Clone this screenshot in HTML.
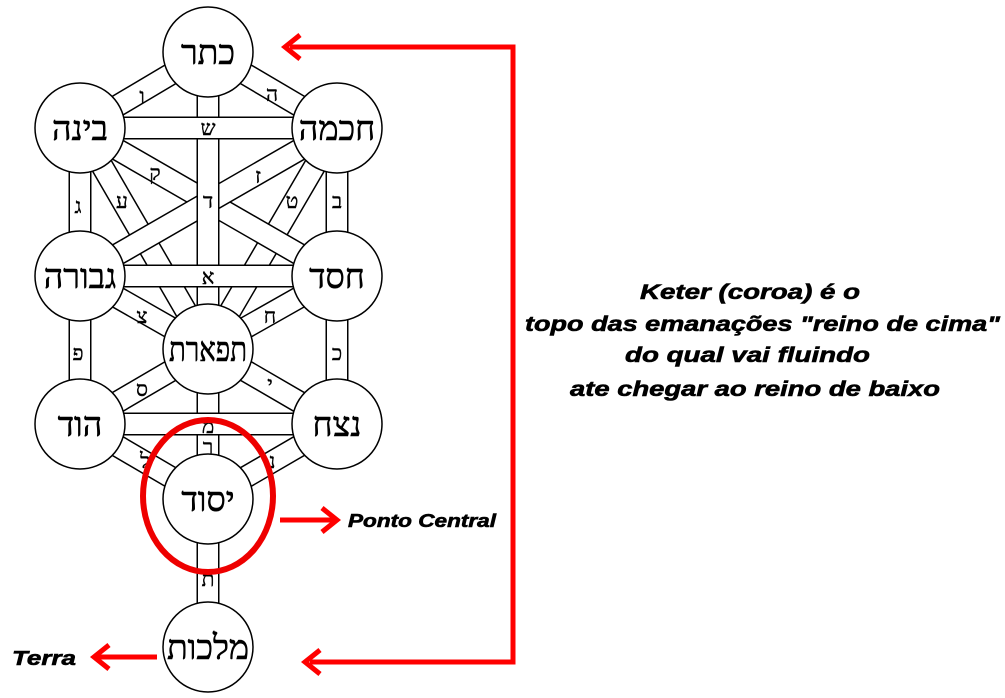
<!DOCTYPE html>
<html><head><meta charset="utf-8"><style>
html,body{margin:0;padding:0;background:#fff;width:1005px;height:698px;overflow:hidden}
svg{display:block}
.h{font-family:"Liberation Serif","DejaVu Serif",serif;text-anchor:middle;fill:#000}
.t{font-family:"Liberation Sans","DejaVu Sans",sans-serif;font-weight:bold;font-style:italic;fill:#000;stroke:#000;stroke-width:0.6}
</style></head><body>
<svg width="1005" height="698" viewBox="0 0 1005 698" xmlns="http://www.w3.org/2000/svg">
<g stroke-linecap="butt">
<line x1="208" y1="52" x2="80" y2="128" stroke="#000" stroke-width="23"/><line x1="208" y1="52" x2="80" y2="128" stroke="#fff" stroke-width="20"/>
<line x1="208" y1="52" x2="337" y2="128" stroke="#000" stroke-width="23"/><line x1="208" y1="52" x2="337" y2="128" stroke="#fff" stroke-width="20"/>
<line x1="80" y1="128" x2="80" y2="276" stroke="#000" stroke-width="23"/><line x1="80" y1="128" x2="80" y2="276" stroke="#fff" stroke-width="20"/>
<line x1="337" y1="128" x2="337" y2="276" stroke="#000" stroke-width="23"/><line x1="337" y1="128" x2="337" y2="276" stroke="#fff" stroke-width="20"/>
<line x1="80" y1="276" x2="80" y2="424" stroke="#000" stroke-width="23"/><line x1="80" y1="276" x2="80" y2="424" stroke="#fff" stroke-width="20"/>
<line x1="337" y1="276" x2="337" y2="424" stroke="#000" stroke-width="23"/><line x1="337" y1="276" x2="337" y2="424" stroke="#fff" stroke-width="20"/>
<line x1="80" y1="128" x2="208" y2="349" stroke="#000" stroke-width="23"/><line x1="80" y1="128" x2="208" y2="349" stroke="#fff" stroke-width="20"/>
<line x1="337" y1="128" x2="208" y2="349" stroke="#000" stroke-width="23"/><line x1="337" y1="128" x2="208" y2="349" stroke="#fff" stroke-width="20"/>
<line x1="80" y1="128" x2="337" y2="276" stroke="#000" stroke-width="23"/><line x1="80" y1="128" x2="337" y2="276" stroke="#fff" stroke-width="20"/>
<line x1="337" y1="128" x2="80" y2="276" stroke="#000" stroke-width="23"/><line x1="337" y1="128" x2="80" y2="276" stroke="#fff" stroke-width="20"/>
<line x1="208" y1="52" x2="208" y2="349" stroke="#000" stroke-width="23"/><line x1="208" y1="52" x2="208" y2="349" stroke="#fff" stroke-width="20"/>
<line x1="80" y1="128" x2="337" y2="128" stroke="#000" stroke-width="23"/><line x1="80" y1="128" x2="337" y2="128" stroke="#fff" stroke-width="20"/>
<line x1="80" y1="276" x2="337" y2="276" stroke="#000" stroke-width="23"/><line x1="80" y1="276" x2="337" y2="276" stroke="#fff" stroke-width="20"/>
<line x1="80" y1="276" x2="208" y2="349" stroke="#000" stroke-width="23"/><line x1="80" y1="276" x2="208" y2="349" stroke="#fff" stroke-width="20"/>
<line x1="337" y1="276" x2="208" y2="349" stroke="#000" stroke-width="23"/><line x1="337" y1="276" x2="208" y2="349" stroke="#fff" stroke-width="20"/>
<line x1="80" y1="424" x2="208" y2="349" stroke="#000" stroke-width="23"/><line x1="80" y1="424" x2="208" y2="349" stroke="#fff" stroke-width="20"/>
<line x1="337" y1="424" x2="208" y2="349" stroke="#000" stroke-width="23"/><line x1="337" y1="424" x2="208" y2="349" stroke="#fff" stroke-width="20"/>
<line x1="208" y1="349" x2="208" y2="499" stroke="#000" stroke-width="23"/><line x1="208" y1="349" x2="208" y2="499" stroke="#fff" stroke-width="20"/>
<line x1="80" y1="424" x2="337" y2="424" stroke="#000" stroke-width="23"/><line x1="80" y1="424" x2="337" y2="424" stroke="#fff" stroke-width="20"/>
<line x1="80" y1="424" x2="208" y2="499" stroke="#000" stroke-width="23"/><line x1="80" y1="424" x2="208" y2="499" stroke="#fff" stroke-width="20"/>
<line x1="337" y1="424" x2="208" y2="499" stroke="#000" stroke-width="23"/><line x1="337" y1="424" x2="208" y2="499" stroke="#fff" stroke-width="20"/>
<line x1="208" y1="499" x2="208" y2="647" stroke="#000" stroke-width="23"/><line x1="208" y1="499" x2="208" y2="647" stroke="#fff" stroke-width="20"/>
</g>
<g class="h" font-size="21" stroke="#000" stroke-width="0.4">
<text x="142" y="103">ו</text><text x="272" y="101">ה</text><text x="208" y="135">ש</text>
<text x="155" y="180">ק</text><text x="258" y="183">ז</text><text x="78" y="213">ג</text>
<text x="122" y="208">ע</text><text x="208" y="208">ד</text><text x="292" y="208">ט</text>
<text x="337" y="208">ב</text><text x="208" y="284">א</text><text x="142" y="323">צ</text>
<text x="270" y="323">ח</text><text x="78" y="360">פ</text><text x="337" y="360">כ</text>
<text x="142" y="396">ס</text><text x="270" y="391">י</text><text x="208" y="433">מ</text>
<text x="208" y="454">ר</text><text x="145" y="468">ל</text><text x="272" y="468">נ</text>
<text x="208" y="586">ת</text>
</g>
<g fill="#fff" stroke="#000" stroke-width="1.5">
<circle cx="208" cy="52" r="45"/><circle cx="80" cy="128" r="45"/><circle cx="337" cy="128" r="45"/>
<circle cx="80" cy="276" r="45"/><circle cx="337" cy="276" r="45"/><circle cx="208" cy="349" r="45"/>
<circle cx="80" cy="424" r="45"/><circle cx="337" cy="424" r="45"/><circle cx="208" cy="499" r="45"/>
<circle cx="208" cy="647" r="45"/>
</g>
<g class="h" font-size="34" stroke="#000" stroke-width="0.6">
<text x="208" y="64">כתר</text><text x="80" y="140">בינה</text><text x="337" y="140">חכמה</text>
<text x="80" y="288">גבורה</text><text x="337" y="288">חסד</text>
<text x="208" y="361" textLength="78" lengthAdjust="spacingAndGlyphs">תפארת</text>
<text x="80" y="436">הוד</text><text x="337" y="436">נצח</text><text x="208" y="511">יסוד</text>
<text x="208" y="659">מלכות</text>
</g>
<ellipse cx="208" cy="496" rx="65" ry="76" fill="none" stroke="#e00" stroke-width="6"/>
<g stroke="#f00" stroke-width="5" fill="none">
<polyline points="290,47 513,47 513,662 310,662"/>
<polyline points="300,35 285,47 300,59"/>
<polyline points="320,650 305,662 320,674"/>
<line x1="280" y1="520" x2="335" y2="520"/>
<polyline points="322,508 337,520 322,532"/>
<line x1="157" y1="657" x2="96" y2="657"/>
<polyline points="109,645 94,657 109,669"/>
</g>
<g class="t" font-size="21">
<text x="348" y="527" textLength="148" lengthAdjust="spacingAndGlyphs" font-size="18">Ponto Central</text>
<text x="12" y="665" textLength="64" lengthAdjust="spacingAndGlyphs" font-size="20">Terra</text>
<text x="640" y="299" textLength="220" lengthAdjust="spacingAndGlyphs">Keter (coroa) é o</text>
<text x="525" y="331" textLength="475" lengthAdjust="spacingAndGlyphs">topo das emanações "reino de cima"</text>
<text x="625" y="362" textLength="245" lengthAdjust="spacingAndGlyphs">do qual vai fluindo</text>
<text x="570" y="396" textLength="370" lengthAdjust="spacingAndGlyphs">ate chegar ao reino de baixo</text>
</g>
</svg>
</body></html>
